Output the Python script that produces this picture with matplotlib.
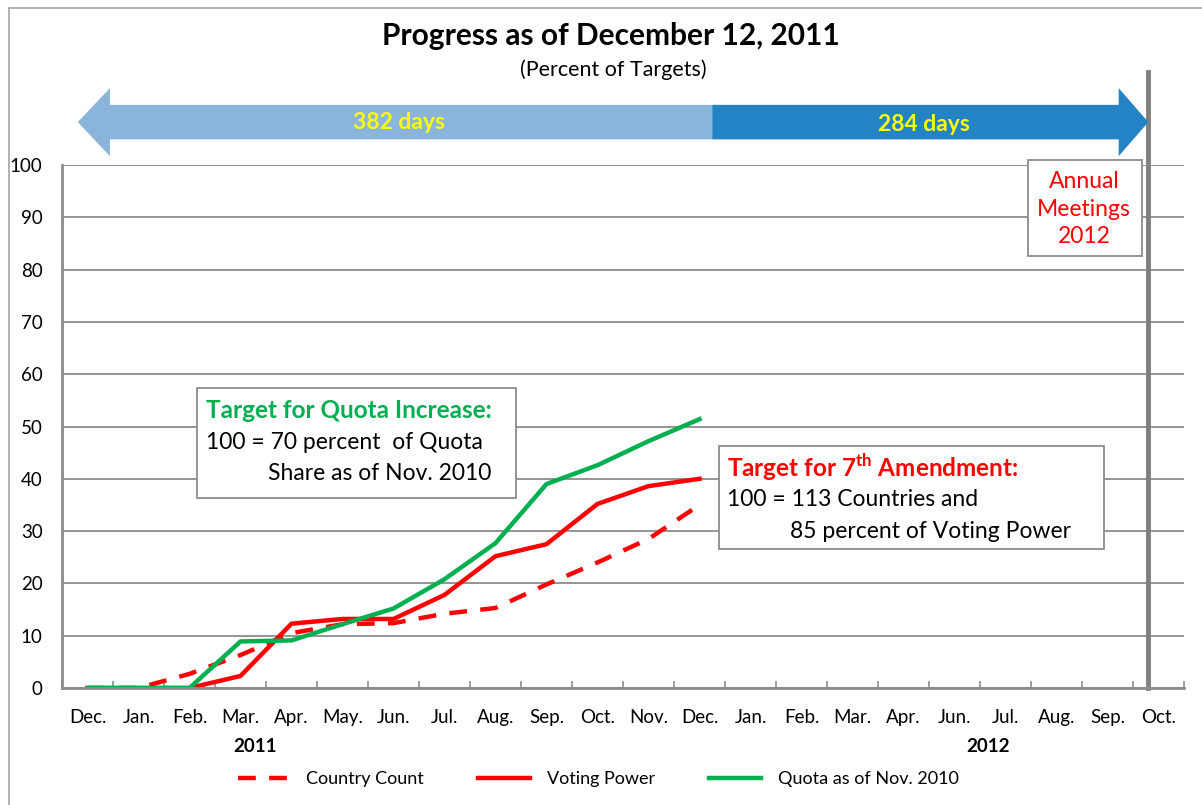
import numpy as np
import matplotlib.pyplot as plt
from matplotlib.patches import Polygon, Rectangle
from matplotlib.lines import Line2D

plt.rcParams['font.family'] = ['Lato', 'DejaVu Sans']
plt.rcParams['mathtext.fontset'] = 'custom'
plt.rcParams['mathtext.rm'] = 'Lato'
plt.rcParams['mathtext.bf'] = 'Lato:bold'

# Data (percent of targets)
months = ['Dec.', 'Jan.', 'Feb.', 'Mar.', 'Apr.', 'May.', 'Jun.', 'Jul.', 'Aug.', 'Sep.', 'Oct.',
          'Nov.', 'Dec.', 'Jan.', 'Feb.', 'Mar.', 'Apr.', 'Jun.', 'Jul.', 'Aug.', 'Sep.', 'Oct.']
country_count = [0, 0, 2.7, 6.3, 10.5, 12.2, 12.4, 14.2, 15.3, 19.8, 24.0, 28.5, 35.0]
voting_power = [0, 0, 0, 2.3, 12.3, 13.2, 13.2, 17.8, 25.2, 27.5, 35.2, 38.6, 40.0]
quota = [0, 0, 0, 8.9, 9.1, 12.2, 15.2, 20.8, 27.7, 39.0, 42.6, 47.2, 51.4]
days_elapsed = '382 days'
days_left = '284 days'
annual_meeting_pos = 20.8   # position of the Annual Meetings marker on the month axis
split_pos = 12.25           # today (Dec. 12, 2011)

W, H = 1202, 805
fig = plt.figure(figsize=(W / 100, H / 100), dpi=100)


def fx(px):
    return px / W


def fy(py):
    return 1 - py / H


ax = fig.add_axes([fx(62), fy(688), fx(1184) - fx(62), fy(165) - fy(688)])

grid_c = '#8C8C8C'
red = '#FF0000'
green = '#00B050'

x = np.arange(len(country_count))
ax.plot(x, country_count, color=red, lw=3.2, dashes=(4, 3), label='Country Count')
ax.plot(x, voting_power, color=red, lw=3.2, label='Voting Power')
ax.plot(x, quota, color=green, lw=3.2, label='Quota as of Nov. 2010')

ax.set_xlim(-0.5, len(months) - 0.5)
ax.set_ylim(0, 100)
ax.set_yticks(range(0, 101, 10))
ax.yaxis.grid(True, color=grid_c, lw=1.3)
ax.set_axisbelow(True)
ax.set_xticks(range(len(months)))
ax.set_xticklabels(months)
ax.set_xticks(np.arange(-0.5, len(months)), minor=True)
ax.tick_params(axis='x', which='major', length=0, pad=15, labelsize=13.5)
ax.tick_params(axis='x', which='minor', direction='in', length=5, color=grid_c, width=1.2)
ax.tick_params(axis='y', length=0, pad=14, labelsize=13.5)
for s in ['top', 'right']:
    ax.spines[s].set_visible(False)
for s in ['left', 'bottom']:
    ax.spines[s].set_color(grid_c)
    ax.spines[s].set_linewidth(2)

# Annual meetings marker
ax.plot([annual_meeting_pos, annual_meeting_pos], [0, 117.8], color='#808080', lw=3.5,
        clip_on=False, zorder=1)

# Double arrow on top
y_c, body, head = 108.2, 3.3, 6.5
x_l, x_r = -0.19, annual_meeting_pos
hl, hr = 0.63, 0.58
light = Polygon([(x_l, y_c), (x_l + hl, y_c + head), (x_l + hl, y_c + body), (split_pos, y_c + body),
                 (split_pos, y_c - body), (x_l + hl, y_c - body), (x_l + hl, y_c - head)],
                closed=True, facecolor='#8AB4DA', edgecolor='none', clip_on=False)
dark = Polygon([(split_pos, y_c + body), (x_r - hr, y_c + body), (x_r - hr, y_c + head), (x_r, y_c),
                (x_r - hr, y_c - head), (x_r - hr, y_c - body), (split_pos, y_c - body)],
               closed=True, facecolor='#2383C4', edgecolor='none', clip_on=False)
ax.add_patch(light)
ax.add_patch(dark)
ax.text(6.1, y_c, days_elapsed, color='#FFFF00', fontsize=16.5, fontweight='bold',
        ha='center', va='center', clip_on=False)
ax.text(16.4, y_c - 0.5, days_left, color='#FFFF00', fontsize=16.5, fontweight='bold',
        ha='center', va='center', clip_on=False)

# Titles
fig.text(fx(611), fy(36), 'Progress as of December 12, 2011', fontsize=21.5, fontweight='bold',
         ha='center', va='center')
fig.text(fx(613), fy(70), '(Percent of Targets)', fontsize=15.5, ha='center', va='center')


def box(x0, y0, x1, y1):
    fig.add_artist(Rectangle((fx(x0), fy(y1)), fx(x1) - fx(x0), fy(y0) - fy(y1),
                             transform=fig.transFigure, facecolor='white',
                             edgecolor='#8C8C8C', lw=1.3, zorder=5))


# Quota target box
box(197, 388, 516, 498)
fig.text(fx(206), fy(410), 'Target for Quota Increase:', color=green, fontsize=17.5,
         fontweight='bold', va='center', zorder=6)
fig.text(fx(206), fy(442), '100 = 70 percent  of Quota', fontsize=16.5, va='center', zorder=6)
fig.text(fx(268), fy(473), 'Share as of Nov. 2010', fontsize=16.5, va='center', zorder=6)

# 7th amendment box
box(719, 446, 1104, 549)
fig.text(fx(727), fy(467), r'Target for 7$^{\mathbf{th}}$ Amendment:', color=red, fontsize=17.5,
         fontweight='bold', va='center', zorder=6)
fig.text(fx(727), fy(499), '100 = 113 Countries and', fontsize=16.5, va='center', zorder=6)
fig.text(fx(790), fy(531), '85 percent of Voting Power', fontsize=16.5, va='center', zorder=6)

# Annual meetings box
box(1028, 160, 1142, 256)
fig.text(fx(1084), fy(209), 'Annual\nMeetings\n2012', color=red, fontsize=16.5, ha='center',
         va='center', linespacing=1.4, zorder=6)

# Year labels
fig.text(fx(255), fy(746), '2011', fontsize=13.5, fontweight='bold', ha='center', va='center')
fig.text(fx(988), fy(746), '2012', fontsize=13.5, fontweight='bold', ha='center', va='center')

# Legend
fig.legend(loc='center', bbox_to_anchor=(fx(598), fy(779)), ncol=3, frameon=False, fontsize=13,
           handlelength=2.9, handletextpad=0.9, columnspacing=3.0)

# Outer frame
fig.add_artist(Line2D([fx(9), fx(9)], [fy(8), 0], transform=fig.transFigure, color='#A6A6A6', lw=1.2))
fig.add_artist(Line2D([fx(9), 1], [fy(8), fy(8)], transform=fig.transFigure, color='#A6A6A6', lw=1.2))

fig.savefig('out.png', dpi=100)
